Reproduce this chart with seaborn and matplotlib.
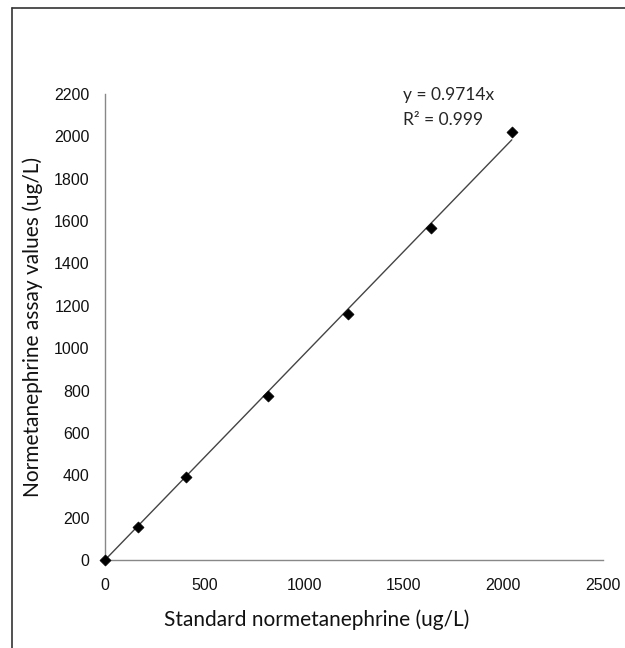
import numpy as np
import pandas as pd
import seaborn as sns
import matplotlib.pyplot as plt
from matplotlib.lines import Line2D

# standard vs measured normetanephrine (ug/L)
standard = [0, 165, 408, 818, 1222, 1637, 2042]
assay = [0, 158, 390, 776, 1161, 1569, 2019]
slope = 0.9714
r2 = 0.999
xticks = [0, 500, 1000, 1500, 2000, 2500]
yticks = list(range(0, 2201, 200))

df = pd.DataFrame({"standard": standard, "assay": assay})
fit = pd.DataFrame({"standard": [0, max(standard)]})
fit["assay"] = slope * fit["standard"]

sns.set_style("white")
plt.rcParams["font.family"] = ["Liberation Sans", "DejaVu Sans"]

fig = plt.figure(figsize=(6.25, 6.48), dpi=100)
ax = fig.add_axes([0.168, 0.1358, 0.7968, 0.7191])

sns.lineplot(data=fit, x="standard", y="assay", ax=ax, color="#444444", linewidth=1.0)
sns.scatterplot(data=df, x="standard", y="assay", ax=ax, marker="D", s=32,
                color="black", edgecolor="black", zorder=3, clip_on=False)

ax.set_xlim(0, 2500)
ax.set_ylim(0, 2200)
ax.set_xticks(xticks)
ax.set_yticks(yticks)
ax.tick_params(axis="both", direction="out", length=4, width=0.8, color="#888888",
               labelsize=11.5, labelcolor="#111111")
ax.tick_params(axis="x", pad=9)
ax.tick_params(axis="y", pad=7)
for side in ["top", "right"]:
    ax.spines[side].set_visible(False)
for side in ["left", "bottom"]:
    ax.spines[side].set_color("#888888")
    ax.spines[side].set_linewidth(1.0)

ax.set_xlabel("Standard normetanephrine (ug/L)", fontsize=15, family="Lato", color="#111111")
ax.set_ylabel("Normetanephrine assay values (ug/L)", fontsize=15, family="Lato", color="#111111")
ax.xaxis.set_label_coords(0.426, -0.105)
ax.yaxis.set_label_coords(-0.125, 0.5)

ax.text(1496, 2174, "y = %.4fx" % slope, fontsize=12.5, family="Lato", va="baseline")
ax.text(1496, 2056, "R\u00b2 = %.3f" % r2, fontsize=12.5, family="Lato", va="baseline")

# outer frame (left and top edges)
fig.add_artist(Line2D([12 / 625, 12 / 625], [0, 1 - 8 / 648], transform=fig.transFigure,
                      color="#333333", linewidth=1.2))
fig.add_artist(Line2D([12 / 625, 1], [1 - 8 / 648, 1 - 8 / 648], transform=fig.transFigure,
                      color="#333333", linewidth=1.2))

fig.savefig("out.png", dpi=100)
